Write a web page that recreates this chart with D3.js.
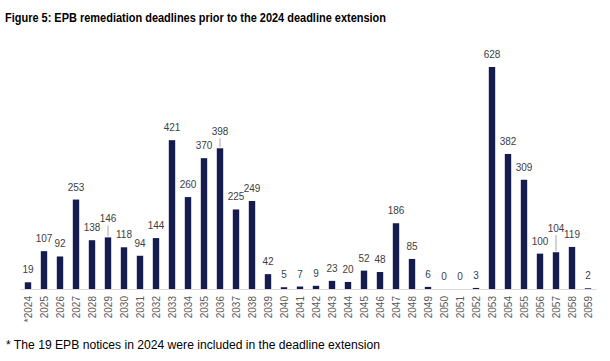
<!DOCTYPE html>
<html>
<head>
<meta charset="utf-8">
<script src="https://cdn.jsdelivr.net/npm/d3@7"></script>
<style>
  body { margin: 0; background: #fff; }
  text { font-family: "Liberation Sans", Arial, sans-serif; }
</style>
</head>
<body>
<svg id="chart"></svg>
<script>
// data
const years = ["2024", "2025", "2026", "2027", "2028", "2029", "2030", "2031", "2032", "2033",
  "2034", "2035", "2036", "2037", "2038", "2039", "2040", "2041", "2042", "2043", "2044", "2045",
  "2046", "2047", "2048", "2049", "2050", "2051", "2052", "2053", "2054", "2055", "2056", "2057",
  "2058", "2059"];
const notices = [19, 107, 92, 253, 138, 146, 118, 94, 144, 421, 260, 370, 398, 225, 249, 42,
  5, 7, 9, 23, 20, 52, 48, 186, 85, 6, 0, 0, 3, 628, 382, 309, 100, 104, 119, 2];
const tickLabels = years.map((y, i) => (i == 0 ? "*" + y : y));

const title = "Figure 5: EPB remediation deadlines prior to the 2024 deadline extension";
const footnote = "* The 19 EPB notices in 2024 were included in the deadline extension";

// labels pushed up with a leader line
const raisedLabels = { "2029": 19, "2036": 17, "2057": 24 };

const W = 610, H = 361;
const baseY = 289;

let svg = d3.select("#chart").attr("width", W).attr("height", H);

const x = d3.scaleBand().domain(years).range([20, 596]).paddingInner(0.6).paddingOuter(0.3);
const y = d3.scaleLinear().domain([0, d3.max(notices)]).range([baseY, 67]);

svg.append("text").attr("x", 5).attr("y", 22)
  .attr("font-size", 13).attr("font-weight", "bold").attr("fill", "#000")
  .attr("textLength", 381).attr("lengthAdjust", "spacingAndGlyphs")
  .text(title);

// bars
svg.append("g").selectAll("rect").data(years).join("rect")
  .attr("x", (d) => x(d))
  .attr("y", (d, i) => y(notices[i]))
  .attr("width", x.bandwidth())
  .attr("height", (d, i) => baseY - y(notices[i]))
  .attr("fill", "#141b4d");

// axis
let axis = svg.append("g").attr("transform", `translate(0,${baseY})`)
  .call(d3.axisBottom(x).tickSize(0).tickSizeOuter(0).tickFormat((d, i) => tickLabels[i]));
axis.select(".domain").attr("stroke", "#d9d9d9").attr("stroke-width", 1);
axis.selectAll(".tick text")
  .attr("transform", "rotate(-90)")
  .attr("x", -7).attr("y", 0).attr("dy", "0.35em")
  .attr("text-anchor", "end")
  .attr("font-size", 10)
  .attr("font-family", "Liberation Sans, Arial, sans-serif")
  .attr("fill", "#595959");

// value labels
let labels = svg.append("g");
years.forEach((yr, i) => {
  const cx = x(yr) + x.bandwidth() / 2;
  const top = y(notices[i]);
  const lift = raisedLabels[yr] || 12.5;
  const ly = top - lift;
  if (raisedLabels[yr]) {
    labels.append("line")
      .attr("x1", cx).attr("x2", cx)
      .attr("y1", ly + 7).attr("y2", top - 1)
      .attr("stroke", "#a6a6a6").attr("stroke-width", 1);
  }
  labels.append("text")
    .attr("x", cx).attr("y", ly).attr("dy", "0.35em")
    .attr("text-anchor", "middle")
    .attr("font-size", 10)
    .attr("fill", "#404040")
    .text(notices[i]);
});

svg.append("text").attr("x", 6).attr("y", 349)
  .attr("font-size", 12).attr("fill", "#000")
  .attr("textLength", 374).attr("lengthAdjust", "spacingAndGlyphs")
  .text(footnote);
</script>
</body>
</html>
